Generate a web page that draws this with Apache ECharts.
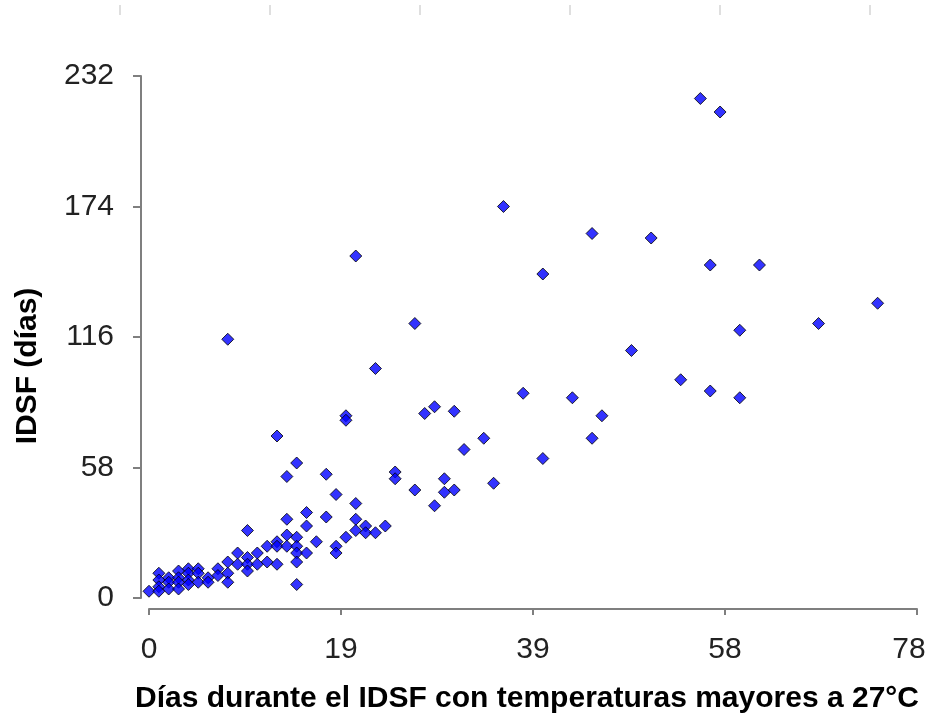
<!DOCTYPE html>
<html>
<head>
<meta charset="utf-8">
<script src="https://cdn.jsdelivr.net/npm/echarts@6/dist/echarts.min.js"></script>
<style>
  html, body { margin: 0; padding: 0; background: #fff; }
  #chart { width: 930px; height: 719px; }
</style>
</head>
<body>
<div id="chart"></div>
<script>
// ── datos: días > 27°C (x) vs IDSF en días (y) ──
const diasCalor = [
  0, 1, 1, 1, 1, 2, 2, 2, 3, 3, 3, 3, 4, 4, 4, 4, 5, 5, 5, 6, 6, 7, 7, 8, 8,
  8, 9, 9, 10, 10, 10, 10, 11, 11, 12, 12, 13, 13, 13, 14, 14, 14, 15, 15, 15, 15, 15,
  16, 16, 16, 17, 18, 19, 19, 20, 21, 21, 21, 22, 22, 23, 24,
  13, 15, 14, 18, 19, 20, 20, 25, 25, 27, 28, 29, 29, 30, 30, 31, 31, 32, 34, 35,
  38, 40, 43, 45, 46, 49, 54, 57, 60, 60, 68, 74, 57, 62, 40, 51, 45, 36, 56, 58,
  21, 27, 23, 8
]
const idsf = [
  3, 11, 8, 5, 3, 9, 7, 4, 12, 9, 7, 4, 13, 11, 8, 6, 13, 11, 7, 9, 7, 13, 10, 11, 7,
  16, 20, 15, 30, 18, 15, 12, 20, 15, 23, 16, 25, 23, 15, 35, 28, 23, 27, 23, 20, 16, 6,
  38, 32, 20, 25, 36, 23, 20, 27, 42, 35, 30, 32, 29, 29, 32,
  72, 60, 54, 55, 46, 81, 79, 56, 53, 48, 82, 85, 41, 53, 47, 48, 83, 66, 71, 51,
  91, 62, 89, 71, 81, 110, 97, 92, 89, 119, 122, 131, 148, 148, 144, 160, 162, 174, 222, 216,
  152, 122, 102, 115
]
const xTickLabels = ['0', '19', '39', '58', '78']

const FONT = '"Liberation Sans", Arial, sans-serif'
const AXIS_GRAY = '#7f7f7f'

const chart = echarts.init(document.getElementById('chart'), null, { renderer: 'canvas' })

const puntos = diasCalor.map((x, i) => [x, idsf[i]])

// marcas tenues de regla arriba
const regla = []
for (let i = 0; i < 6; i++) {
  regla.push({
    type: 'line', silent: true,
    shape: { x1: 120 + 150 * i, y1: 5, x2: 120 + 150 * i, y2: 15 },
    style: { stroke: '#d4d4d4', lineWidth: 1.5 },
  })
}

const option = {
  backgroundColor: '#fff',
  animation: false,
  grid: { left: 149, right: 13, top: 76, bottom: 121, outerBoundsMode: 'none' },
  graphic: regla,
  xAxis: {
    type: 'value', min: 0, max: 78, interval: 19.5,
    offset: 11,
    name: 'Días durante el IDSF con temperaturas mayores a 27°C',
    nameLocation: 'middle', nameGap: 75,
    nameTextStyle: { fontFamily: FONT, fontSize: 30, fontWeight: 'bold', color: '#000', padding: [0, 12, 0, 0] },
    axisLine: { show: true, onZero: false, lineStyle: { color: AXIS_GRAY, width: 2 } },
    axisTick: { show: true, length: 6, lineStyle: { color: AXIS_GRAY, width: 2 } },
    axisLabel: {
      fontFamily: FONT, fontSize: 30, color: '#222', margin: 26,
      formatter: (v) => {
        const i = Math.round(v / 19.5)
        return i === xTickLabels.length - 1 ? '{last|' + xTickLabels[i] + '}' : (xTickLabels[i] ?? '')
      },
      rich: { last: { fontFamily: FONT, fontSize: 30, color: '#222', padding: [0, 16, 0, 0] } },
    },
    splitLine: { show: false },
  },
  yAxis: {
    type: 'value', min: 0, max: 232, interval: 58,
    offset: 8,
    name: 'IDSF (días)',
    nameLocation: 'middle', nameRotate: 90, nameGap: 98,
    nameTextStyle: { fontFamily: FONT, fontSize: 30, fontWeight: 'bold', color: '#000', padding: [0, 58, 0, 0] },
    axisLine: { show: true, onZero: false, lineStyle: { color: AXIS_GRAY, width: 2 } },
    axisTick: { show: true, length: 8, lineStyle: { color: AXIS_GRAY, width: 2 } },
    axisLabel: { fontFamily: FONT, fontSize: 30, color: '#222', margin: 27 },
    splitLine: { show: false },
  },
  series: [{
    type: 'scatter',
    data: puntos,
    symbol: 'diamond',
    symbolSize: 12,
    clip: false,
    itemStyle: { color: '#0000ff', borderColor: '#000', borderWidth: 1 },
  }],
}

chart.setOption(option)
</script>
</body>
</html>
